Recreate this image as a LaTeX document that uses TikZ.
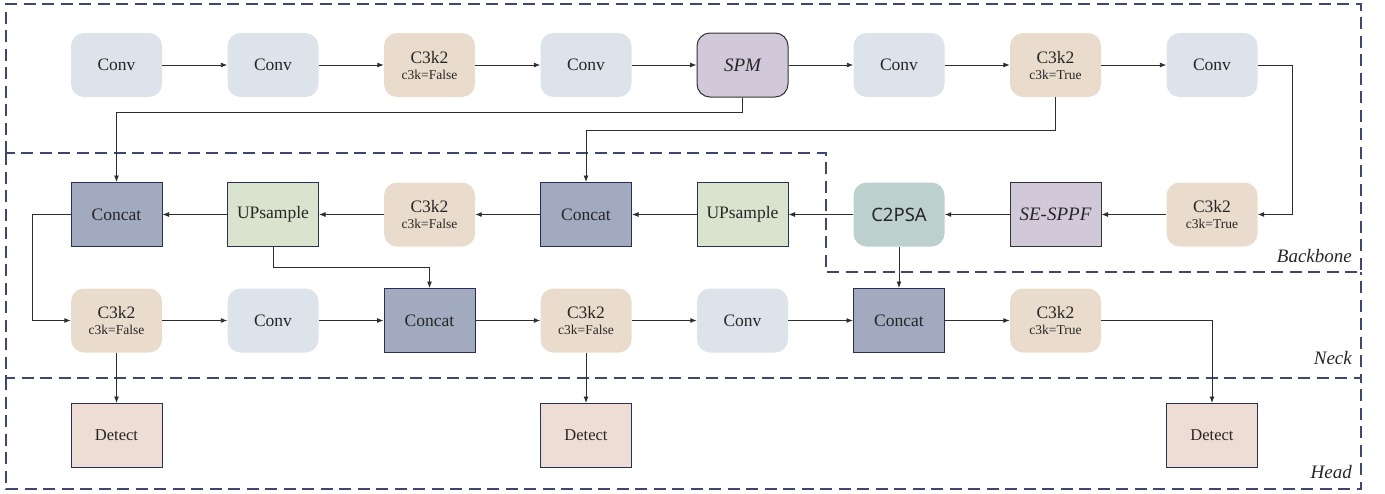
\documentclass[tikz,border=0pt]{standalone}
\usepackage{fontspec}
\setmainfont{Liberation Serif}
\newfontfamily\csans{Noto Sans}
\usetikzlibrary{arrows.meta}
\definecolor{convc}{RGB}{221,227,235}
\definecolor{c3c}{RGB}{233,220,204}
\definecolor{spmc}{RGB}{209,200,217}
\definecolor{catc}{RGB}{162,170,192}
\definecolor{upc}{RGB}{218,227,205}
\definecolor{psac}{RGB}{188,208,205}
\definecolor{detc}{RGB}{238,221,213}
\definecolor{navy}{RGB}{40,48,90}
\definecolor{dashc}{RGB}{62,72,110}
\definecolor{arrc}{RGB}{45,45,45}
\tikzset{
  base/.style={minimum width=91pt, minimum height=64pt, inner sep=0pt, align=center,
    font=\fontsize{17.5}{19}\selectfont, text=black!85},
  rbox/.style={base, rounded corners=13pt},
  convbox/.style={rbox, fill=convc},
  cthreebox/.style={rbox, fill=c3c},
  spmbox/.style={rbox, fill=spmc, draw=black!80, line width=1pt, font=\fontsize{19}{20}\selectfont\itshape},
  catbox/.style={base, fill=catc, draw=navy, line width=1pt},
  upbox/.style={base, fill=upc, draw=navy, line width=1pt},
  psabox/.style={rbox, fill=psac, font=\csans\fontsize{18.5}{20}\selectfont},
  sppfbox/.style={base, fill=spmc, draw=black!80, line width=1pt, font=\fontsize{19}{20}\selectfont\itshape},
  detbox/.style={base, fill=detc, draw=navy, line width=1pt, font=\fontsize{16.5}{18}\selectfont},
  arr/.style={draw=arrc, line width=0.9pt, -{Latex[length=6.5pt,width=5pt]}},
  region/.style={draw=dashc, line width=1.2pt, dash pattern=on 12pt off 6.5pt},
  reglabel/.style={anchor=east, inner sep=0pt, font=\fontsize{19}{20}\selectfont\itshape, text=black!85}
}
\newcommand{\sublab}[1]{C3k2\\[-3pt]{\fontsize{13.5}{14}\selectfont #1}}
\begin{document}
\begin{tikzpicture}[x=1pt,y=-1pt]
\useasboundingbox (0,0) rectangle (1385,493);
% regions
\draw[region] (6,153) -- (6,4) -- (1361,4) -- (1361,272) -- (826,272) -- (826,153) -- cycle;
\draw[region] (6,153) -- (6,378) -- (1361,378) -- (1361,272);
\draw[region] (6,378) -- (6,489) -- (1361,489) -- (1361,378);
\node[reglabel] (lb) at (1352,256) {Backbone};
\node[reglabel] (ln) at (1352,358) {Neck};
\node[reglabel] (lh) at (1352,472) {Head};
% row 1
\def\ya{65}
\node[convbox] (a0) at (116.5,\ya) {Conv};
\node[convbox] (a1) at (273,\ya) {Conv};
\node[cthreebox] (a2) at (429.5,\ya) {\sublab{c3k=False}};
\node[convbox] (a3) at (586,\ya) {Conv};
\node[spmbox] (a4) at (742.5,\ya) {SPM};
\node[convbox] (a5) at (899,\ya) {Conv};
\node[cthreebox] (a6) at (1055.5,\ya) {\sublab{c3k=True}};
\node[convbox] (a7) at (1212,\ya) {Conv};
% row 2
\def\yb{214.5}
\node[catbox] (b0) at (116.5,\yb) {Concat};
\node[upbox] (b1) at (273,\yb) {UPsample};
\node[cthreebox] (b2) at (429.5,\yb) {\sublab{c3k=False}};
\node[catbox] (b3) at (586,\yb) {Concat};
\node[upbox] (b4) at (742.5,\yb) {UPsample};
\node[psabox] (b5) at (899,\yb) {C2PSA};
\node[sppfbox] (b6) at (1055.5,\yb) {SE-SPPF};
\node[cthreebox] (b7) at (1212,\yb) {\sublab{c3k=True}};
% row 3
\def\yc{320.5}
\node[cthreebox] (c0) at (116.5,\yc) {\sublab{c3k=False}};
\node[convbox] (c1) at (273,\yc) {Conv};
\node[catbox] (c2) at (429.5,\yc) {Concat};
\node[cthreebox] (c3) at (586,\yc) {\sublab{c3k=False}};
\node[convbox] (c4) at (742.5,\yc) {Conv};
\node[catbox] (c5) at (899,\yc) {Concat};
\node[cthreebox] (c6) at (1055.5,\yc) {\sublab{c3k=True}};
% row 4
\def\yd{435.5}
\node[detbox] (d0) at (116.5,\yd) {Detect};
\node[detbox] (d3) at (586,\yd) {Detect};
\node[detbox] (d7) at (1212,\yd) {Detect};
% row 1 arrows
\foreach \i/\j in {a0/a1,a1/a2,a2/a3,a3/a4,a4/a5,a5/a6,a6/a7} \draw[arr] (\i) -- (\j);
% row 2 arrows
\foreach \i/\j in {b7/b6,b6/b5,b5/b4,b4/b3,b3/b2,b2/b1,b1/b0} \draw[arr] (\i) -- (\j);
% row 3 arrows
\foreach \i/\j in {c0/c1,c1/c2,c2/c3,c3/c4,c4/c5,c5/c6} \draw[arr] (\i) -- (\j);
% other connectors
\draw[arr] (a7.east) -- ++(35,0) |- (b7.east);
\draw[arr] (a4.south) -- ++(0,15) -| (b0.north);
\draw[arr] (a6.south) -- ++(0,33) -| (b3.north);
\draw[arr] (b0.west) -- ++(-38,0) |- (c0.west);
\draw[arr] (b1.south) -- ++(0,20) -| (c2.north);
\draw[arr] (b5.south) -- (c5.north);
\draw[arr] (c6.east) -| (d7.north);
\draw[arr] (c0.south) -- (d0.north);
\draw[arr] (c3.south) -- (d3.north);
\end{tikzpicture}
\end{document}
